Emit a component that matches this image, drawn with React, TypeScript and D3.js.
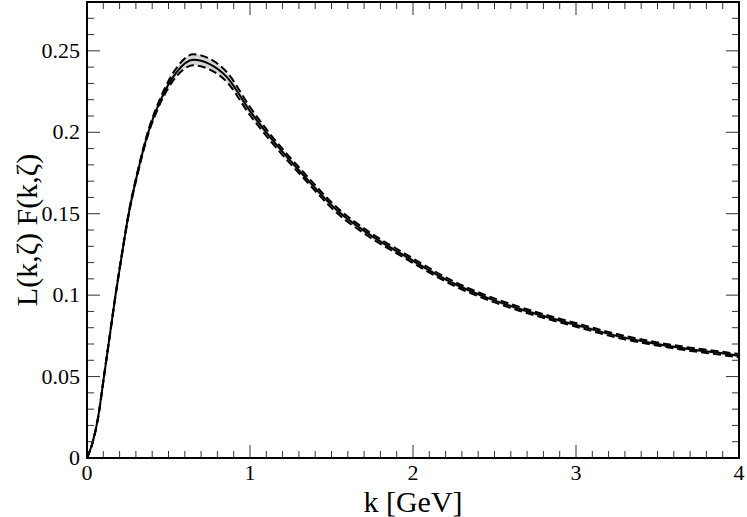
import { useEffect, useRef } from "react";
import * as d3 from "d3";

// values
const kValues = [0, 0.033, 0.069, 0.104, 0.141, 0.175, 0.212, 0.254, 0.31, 0.376, 0.448, 0.55, 0.652, 0.75, 0.857, 1.0, 1.123, 1.327, 1.532, 1.736, 1.94, 2.247, 2.452, 2.656, 2.86, 3.045, 3.25, 3.454, 3.658, 3.965, 4.0];
const central = [0, 0.009, 0.0254, 0.05, 0.076, 0.1, 0.1237, 0.149, 0.175, 0.2, 0.219, 0.237, 0.2445, 0.242, 0.234, 0.213, 0.197, 0.1738, 0.1523, 0.137, 0.1247, 0.1073, 0.0985, 0.0915, 0.0855, 0.0805, 0.075, 0.0708, 0.0674, 0.0633, 0.0628];
const bandHalf = [0, 0.0001, 0.0002, 0.0003, 0.0004, 0.0005, 0.0006, 0.0007, 0.0009, 0.0011, 0.0016, 0.0026, 0.0034, 0.0033, 0.003, 0.0025, 0.002, 0.0018, 0.0017, 0.0015, 0.0014, 0.0013, 0.0012, 0.0012, 0.0011, 0.0011, 0.0011, 0.001, 0.001, 0.001, 0.001];

const xTicks = [0, 1, 2, 3, 4];
const yTicks = [0, 0.05, 0.1, 0.15, 0.2, 0.25];

export default function App() {
  const svgRef = useRef<SVGSVGElement>(null);

  useEffect(() => {
    const svg = d3.select(svgRef.current);
    svg.selectAll("*").remove();

    const width = 747, height = 517;
    const margin = { top: 2, right: 8, bottom: 59, left: 87 };
    const innerW = width - margin.left - margin.right;
    const innerH = height - margin.top - margin.bottom;
    const font = "Liberation Serif, Times New Roman, serif";
    svg.attr("font-family", font);

    const g = svg.append("g").attr("transform", `translate(${margin.left},${margin.top})`);

    const x = d3.scaleLinear().domain([0, 4]).range([0, innerW]);
    const y = d3.scaleLinear().domain([0, 0.28]).range([innerH, 0]);

    const data = kValues.map((k, i) => ({ k, v: central[i], lo: central[i] - bandHalf[i], hi: central[i] + bandHalf[i] }));
    const curve = d3.curveMonotoneX;

    g.append("path").datum(data)
      .attr("fill", "#d6d6d6")
      .attr("d", d3.area<any>().x(d => x(d.k)).y0(d => y(d.lo)).y1(d => y(d.hi)).curve(curve));

    g.append("path").datum(data)
      .attr("fill", "none").attr("stroke", "#000").attr("stroke-width", 2)
      .attr("d", d3.line<any>().x(d => x(d.k)).y(d => y(d.v)).curve(curve));

    ["lo", "hi"].forEach(key => {
      g.append("path").datum(data)
        .attr("fill", "none").attr("stroke", "#000").attr("stroke-width", 2)
        .attr("stroke-dasharray", "8,4")
        .attr("d", d3.line<any>().x(d => x(d.k)).y(d => y(d[key])).curve(curve));
    });

    // ticks on all four sides, pointing inward
    const tickStroke = "#333";
    const minorX = d3.range(0, 41).map(i => i / 10);
    minorX.forEach((t, i) => {
      const len = i % 10 === 0 ? 13 : 7;
      g.append("line").attr("x1", x(t)).attr("x2", x(t)).attr("y1", innerH).attr("y2", innerH - len)
        .attr("stroke", tickStroke).attr("stroke-width", 1);
      g.append("line").attr("x1", x(t)).attr("x2", x(t)).attr("y1", 0).attr("y2", len)
        .attr("stroke", tickStroke).attr("stroke-width", 1);
    });
    const minorY = d3.range(0, 29).map(i => i / 100);
    minorY.forEach((t, i) => {
      const len = i % 5 === 0 ? 13 : 7;
      g.append("line").attr("x1", 0).attr("x2", len).attr("y1", y(t)).attr("y2", y(t))
        .attr("stroke", tickStroke).attr("stroke-width", 1);
      g.append("line").attr("x1", innerW).attr("x2", innerW - len).attr("y1", y(t)).attr("y2", y(t))
        .attr("stroke", tickStroke).attr("stroke-width", 1);
    });

    g.append("rect").attr("x", 0).attr("y", 0).attr("width", innerW).attr("height", innerH)
      .attr("fill", "none").attr("stroke", "#000").attr("stroke-width", 2);

    g.selectAll(".xl").data(xTicks).enter().append("text")
      .attr("x", d => x(d)).attr("y", innerH + 22).attr("text-anchor", "middle")
      .attr("font-size", 22).text(d => String(d));

    g.selectAll(".yl").data(yTicks).enter().append("text")
      .attr("x", -7).attr("y", d => y(d) + 7).attr("text-anchor", "end")
      .attr("font-size", 22).text(d => String(d));

    svg.append("text").attr("x", margin.left + innerW / 2).attr("y", 512).attr("text-anchor", "middle")
      .attr("font-size", 30).text("k [GeV]");

    svg.append("text").attr("transform", `translate(37,${margin.top + innerH / 2}) rotate(-90)`)
      .attr("text-anchor", "middle")
      .attr("font-size", 30).text("L(k,ζ) F(k,ζ)");
  }, []);

  return <svg ref={svgRef} width={747} height={517} style={{ position: "absolute", left: 0, top: 0 }} />;
}
